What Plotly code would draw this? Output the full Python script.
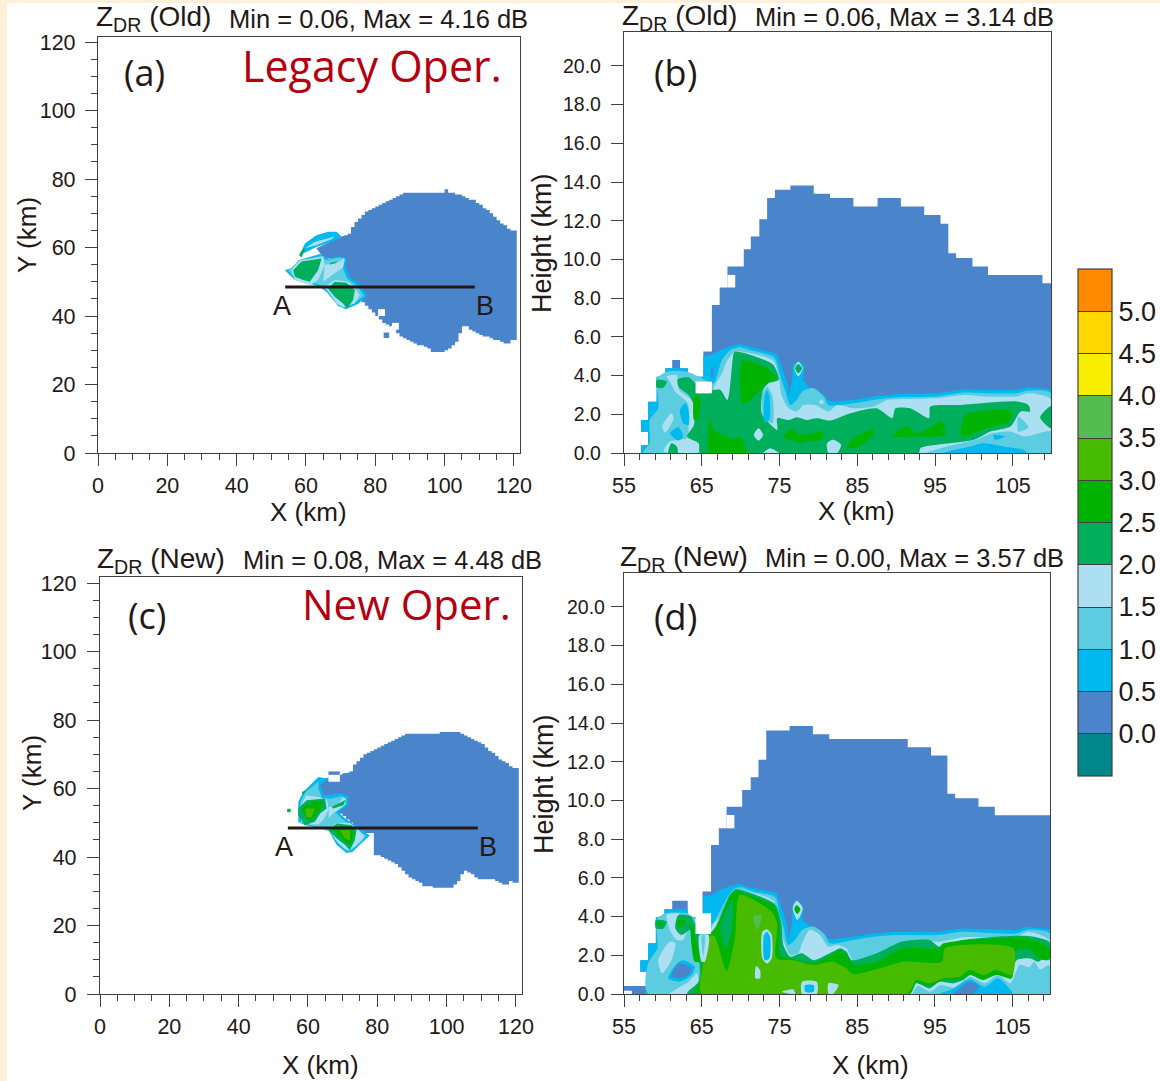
import plotly.graph_objects as go

W, H = 1160, 1081

# ---------- colour levels ----------
LEVEL_COLORS = ["#00878A", "#4A84CB", "#00B9EF", "#5CCDE0", "#ADDFF3", "#00AF5B",
                "#00B300", "#46BB00", "#55BD50", "#F7EE00", "#FFD800", "#FF8A00"]
CBAR_TICKS = [0.0, 0.5, 1.0, 1.5, 2.0, 2.5, 3.0, 3.5, 4.0, 4.5, 5.0]
C0, C05, C10, C15, C20, C25, C30, C35 = LEVEL_COLORS[1:9]
WHITE = "#FFFFFF"

# ---------- panel (a): echo columns, X in km, Y top / bottom in km ----------
A_X = list(range(70, 121))
A_TOP = [63, 63.5, 64, 66, 67.5, 68.5, 69.5, 70.5, 71, 71.5, 72, 72.5, 73, 73.5, 74, 74.5, 75, 75.5, 76, 76, 76, 76, 76, 76, 76,
         76, 76, 76, 76, 76, 77, 76, 76, 75.5, 75.5, 75, 74.5, 74, 74, 73, 72.5, 71.5, 71, 70, 69, 68, 67, 66.5, 65.5, 65, 65]
A_BOT = [51, 51, 50, 49, 48, 47, 44, 43, 42, 41, 40, 39, 38, 37.5, 37, 36, 35, 34, 33.5, 33, 32.5, 32, 31.5, 31.5, 31,
         30.5, 29.5, 29.5, 29.5, 29.5, 30, 30.5, 31.5, 32.5, 35, 37, 37, 36, 35.5, 35, 34.5, 34, 34, 33.5, 33, 33, 32.5, 32, 32, 33, 33]
A_RIGHT = 120.8
A_FILL = [(65, 57.1), (63, 59.8), (70.2, 63.2), (71.9, 63.6), (71.9, 56.3)]
A_HOLE1 = [(80.8, 40), (82.8, 40), (82.8, 42), (80.8, 42)]
A_HOLE2 = [(84.8, 36), (86.8, 36), (86.8, 38), (84.8, 38)]
A_HOLE3 = [(82.4, 33.6), (84, 33.6), (84, 35.2), (82.4, 35.2)]
A_05 = [(53.9, 53.4), (56.3, 54.2), (57.8, 56.3), (64, 58.1), (66.4, 56.8), (69.8, 57.5), (71.5, 57.1), (71.5, 54.2), (72.6, 51.5),
        (75.5, 49.3), (77.6, 45.9), (75, 43.5), (71.5, 42), (69.3, 42.9), (65.9, 47.1), (63.5, 48.8), (56.8, 50.5)]
A_05S = [(58.2, 57.8), (59.7, 61.2), (63, 63.6), (66.4, 64.6), (68.8, 64.6), (70.2, 63.2), (67.4, 61.7), (63, 60.2), (60.2, 58.8)]
A_10 = [(54.9, 53.3), (57.7, 55.9), (64.2, 57.5), (65.9, 56.4), (69.8, 57.2), (70.9, 56.3), (70.7, 53.9), (71.9, 51), (75, 48.6),
        (76.7, 45.9), (74.6, 44.2), (71.5, 42.5), (69.3, 43.5), (65.9, 47.6), (63.5, 49.3), (56.8, 51)]
A_15S = [(59.7, 59.8), (62.6, 61.7), (68.3, 63.2), (67.4, 62.4), (63, 60.7)]
A_15A = [(55.8, 53.4), (58.2, 56.3), (65, 57.5), (65.4, 54.9), (63.5, 50.5), (61.1, 49), (56.8, 50.5)]
A_15B = [(65.4, 54.9), (69.8, 55.9), (70.7, 57), (71.2, 56.5), (70.7, 54.2), (67.5, 52), (65, 50)]
A_15C = [(65.5, 48.6), (68.3, 50.5), (72.2, 50), (75, 47.1), (75.5, 46.1), (74, 43.7), (70.7, 42.5), (68.8, 43.7)]
A_20A = [(56.3, 53.4), (58.7, 55.9), (64.5, 56.8), (63.5, 53.4), (61.1, 50), (59.2, 50.5), (56.8, 51.5)]
A_20B = [(66.4, 48), (68.3, 50), (71.7, 49.7), (74.1, 47.6), (73.6, 44.7), (71.9, 42.2), (70.7, 43.7), (68.3, 45.6)]
A_20C = [(58, 57.8), (59.2, 59.8), (59.7, 59.3), (58.7, 57.1)]
A_20D = [(66.7, 55), (68.7, 55.5), (69, 55.9), (67.2, 55.6)]

# ---------- panel (c) ----------
C_X = list(range(70, 121))
C_TOP = [64.5, 64.5, 65, 67, 68, 69, 70, 70.5, 71, 71.5, 72, 72.5, 73, 73.5, 74, 74.5, 75, 75.5, 76, 76, 76, 76, 76, 76, 76,
         76, 76, 76, 76.5, 76.5, 76.5, 76.5, 76.5, 76.5, 76, 75.5, 75, 74.5, 74, 73.5, 73, 72, 71, 70.5, 69.5, 68.5, 68, 67.5, 66.5, 66, 66]
C_BOT = [52, 51, 50, 49, 48, 47.5, 47, 47, 47, 40.5, 40.5, 40, 39.5, 39, 38.5, 38, 37, 36, 35, 34, 33.5, 33, 32.5, 31.5, 31.5,
         31.5, 31, 31, 31, 31, 31, 31, 32, 33, 35, 36, 35.5, 35, 34, 33.5, 33.5, 33.5, 33.5, 33.5, 33, 32.5, 32, 32, 33, 32.5, 32.5]
C_RIGHT = 120.8
C_FILL = [(62, 60.5), (65, 63), (69.2, 64), (73, 65), (73, 52), (68, 53), (64, 58)]
C_TAB = [(65.9, 64), (69.2, 64), (69.2, 65), (65.9, 65)]
C_HOLE = [(65.9, 62), (69.2, 62), (69.2, 64), (65.9, 64)]
C_05 = [(57.2, 56.1), (58.6, 59), (63, 63.4), (65.9, 62.9), (63.5, 61), (64.4, 58.1), (66.3, 58.1), (69.7, 58.6), (71.6, 57.6),
        (71.6, 55.1), (68.7, 53.2), (70.7, 51.3), (73.5, 49.3), (75.9, 47.4), (77.9, 46.4), (76.4, 44.9), (75, 43.5), (72.8, 41.5),
        (71.1, 41.2), (68.3, 43.5), (65.9, 47.8), (62, 48.8), (59.1, 49.3), (57.2, 50.3)]
C_10 = [(57.8, 56), (59, 58.8), (63, 62), (63, 60), (64, 57.3), (66.5, 57), (69.8, 57.8), (71, 57), (71, 55.5), (68, 53), (70, 51),
        (73, 48.8), (75.5, 47), (76.8, 46.3), (75.5, 44.5), (72.5, 42), (71.2, 41.8), (68.6, 44), (66.2, 47.5), (62, 49), (58, 50)]
C_15A = [(58.2, 55.5), (59.5, 58), (63.5, 57.5), (65.5, 56.5), (66, 54), (64.5, 51), (63, 49.5), (60, 49.6), (58, 50.5)]
C_15B = [(66.2, 48), (68, 49.8), (72, 50), (75, 47.5), (76.3, 46), (74, 43.5), (72, 42), (70.5, 42.5), (68, 45)]
C_15C = [(66, 54.5), (68.5, 55.5), (70.2, 57.5), (71, 57), (70.5, 55), (67.5, 53), (66, 51.5)]
C_20A = [(57.2, 52.2), (57.2, 54.2), (59.6, 56.6), (64.9, 57.1), (65.4, 54.2), (63.5, 52.7), (62, 50.3), (59.1, 49.3)]
C_20B = [(65.9, 47.8), (68.3, 49.8), (72.6, 49.3), (74, 47.8), (73.5, 44.9), (72.1, 42), (70.7, 43.5), (68.3, 45.4)]
C_20C = [(66.8, 54.7), (70.7, 56.6), (71.1, 57.1), (70.2, 55.1), (67.3, 54.2)]
C_20D = [(58.2, 59), (59.6, 59.5), (58.6, 58)]
C_20E = [(54, 53.1), (55, 53.1), (55, 54.1), (54, 54.1)]
C_25A = [(58.2, 54.2), (61.5, 56.6), (64.4, 56.1), (63.5, 53.7), (62, 51.7), (60.1, 50.3)]
C_25B = [(67.3, 47.8), (69.2, 49), (72.6, 48.6), (73.4, 46.4), (72.1, 43.5), (70.7, 44.4), (69.2, 45.9)]
C_30A = [(59.1, 54.2), (62, 54.2), (61, 51.7), (59.6, 51.7)]
C_30B = [(69.2, 47.8), (72.1, 47.8), (72.1, 44.9), (70.7, 45.4)]

# ---------- panel (b): X in km, height in km ----------
B_EDGES = [65.2, 66.3, 67.3, 68.3, 69.3, 70.4, 71.3, 72.4, 73.4, 74.4, 76.4, 79.4, 81.5, 84.5, 87.6, 90.6, 93.6, 95.7, 96.7, 97.7, 99.8, 101.8, 108.8, 109.9]
B_TOPS = [5.24, 7.65, 8.55, 9.63, 9.63, 10.53, 11.18, 12.08, 13.17, 13.6, 13.82, 13.39, 13.17, 12.73, 13.17, 12.73, 12.29, 11.84, 10.32, 10.08, 9.63, 9.2, 8.77]
B_LEFT = [(57.2, 0), (57.2, .41), (58.1, .41), (58.1, 1.1), (57.2, 1.1), (57.2, 1.7), (58.1, 1.7), (58.1, 2.65), (59.2, 2.65), (59.2, 3.94),
          (60.3, 3.94), (60.3, 4.38), (61.2, 4.38), (61.2, 4.8), (62.2, 4.8), (62.2, 4.38), (63.2, 4.38), (63.2, 3.94), (65.2, 3.94)]
B_NOTCH = [(68.3, 8.55), (69.3, 8.55), (69.3, 9.2), (68.3, 9.2)]
B_HOLE = [(64.2, 3.08), (66.3, 3.08), (66.3, 3.69), (64.2, 3.69)]
B_05 = [(57.2, 0), (57.2, .41), (58.1, .41), (58.1, 1.1), (57.2, 1.1), (57.2, 1.7), (58.1, 1.7), (58.1, 2.65), (59.2, 2.65), (59.2, 3.94),
        (60.3, 3.94), (60.3, 4.38), (63.2, 4.38), (63.2, 3.94), (65.2, 3.94), (65.2, 5.0), (66.3, 5.07), (67.4, 5.32), (68.7, 5.5), (69.9, 5.63),
        (71.4, 5.46), (74.7, 5.12), (75.1, 4.64), (75.5, 4.12), (76, 3.6), (76.2, 3), (76.6, 3.69), (76.7, 4.55), (77.5, 4.77), (78.2, 4.5),
        (78, 3.78), (78.9, 3.35), (80.2, 3.17), (81.5, 2.66), (84.5, 2.74), (87.1, 2.92), (90.1, 3.05), (95.3, 3.09), (98.7, 3.29), (101.7, 3.26),
        (105.5, 3.26), (106.8, 3.4), (109.9, 3.29), (109.9, 0)]
B_STREAK = [(66.2, 4.38), (66.5, 4.38), (66.4, 3.86), (66.2, 3.86)]
B_10 = [(57.5, .02), (58.3, .5), (58.3, 1.71), (59.4, 2.31), (59.3, 3.86), (60.5, 4.2), (63.1, 4.2), (64.8, 3.91), (66.5, 3.6), (67.6, 4.81),
        (68.7, 5.32), (69.9, 5.46), (71.4, 5.29), (74.3, 4.95), (75, 4.12), (75.7, 3.26), (76.4, 2.48), (77.2, 2.74), (77.9, 3.17), (79.4, 3.35),
        (80.7, 2.92), (81.3, 2.48), (84.5, 2.57), (87.1, 2.74), (90.1, 2.88), (95.3, 2.92), (98.7, 3.12), (101.7, 3.09), (105.5, 3.09), (106.8, 3.22),
        (109.9, 3.09), (109.9, 0)]
B_15 = [(66.5, 3.29), (67.6, 4.12), (68.2, 4.72), (69.3, 5.24), (70.8, 5.19), (74.2, 4.77), (74.9, 3.95), (75.3, 2.92), (76.2, 2.31), (77.2, 2.14),
        (78.1, 2.48), (79.6, 2.48), (81.3, 2.14), (82.4, 2.48), (84.5, 2.31), (87.1, 2.4), (88.8, 2.74), (90.1, 2.78), (95.3, 2.83), (98.7, 3),
        (101.7, 2.92), (105.5, 2.92), (107, 3.09), (109.9, 2.78), (109.9, 0), (66.5, 0)]
B_15L = [(60.5, 3.95), (61.4, 4.03), (61.8, 4.03), (62.1, 3.26), (63.7, 2.74), (64.4, 1.45), (63.4, .85), (64.8, .59), (64.7, .08), (60.1, .08),
         (60.9, .59), (63.1, .77), (63.3, 1.54), (63.2, 2.57), (61.6, 3.17), (60.9, 3.69)]
B_15O = [(59.9, 1.37), (61.1, 2.05), (61.4, 1.8), (60.3, 1.06)]
B_05A = [(62.2, 2.23), (62.9, 2.57), (63.3, 2.23), (63.3, 1.45), (62.6, 1.54)]
B_05B = [(60.9, 1.02), (62, 1.33), (62.6, .85), (62, .64)]
B_20 = [(63.1, .85), (64, 1.45), (63.9, 2.57), (63.3, 3), (62, 3.43), (61.9, 3.81), (63.3, 3.91), (64.2, 3.6), (66.3, 3.26), (67.4, 3.26),
        (68.3, 2.74), (69.1, 5.15), (69.3, 5.24), (70.6, 5.15), (74.2, 4.55), (74.9, 3.78), (73.6, 3.6), (72.9, 3.26), (72.7, 2.06), (74.7, 1.2),
        (74.7, 1.8), (76.2, 1.71), (77.2, 1.85), (78.5, 1.71), (79.8, 1.8), (81.5, 1.68), (84.1, 2.06), (87.5, 2.31), (89.5, 1.8), (89.9, 2.31),
        (91.8, 2.31), (94.2, 1.8), (94.4, 2.4), (98.3, 2.48), (105.5, 2.66), (107, 2.48), (107.2, 2.14), (106, 2.14), (104.7, 1.37), (102.1, 1.11),
        (100, .68), (93.1, .25), (92.9, 0), (64.8, 0), (64.6, .5)]
B_20R = [(109.9, 2.43), (108.5, 1.84), (109.9, 1.28)]
B_20L = [(59.2, 3.78), (60.5, 3.69), (60.1, 3.38), (59.2, 3.38)]
B_20B = [(60.7, 0), (61.1, .5), (61.8, .33), (61.9, 0)]
B_25A = [(70.2, 4.77), (73.4, 4.38), (74.7, 3.78), (73.6, 3.69), (72.7, 3.34), (70.8, 2.57), (70.2, 2.57)]
B_25B = [(64.1, 3), (64.8, 2.83), (64.4, 1.71), (64, 1.71)]
B_25C = [(66, 0), (66.1, 1.88), (66.5, 1.2), (69.1, .76), (69.9, .85), (70.7, 0)]
B_25D = [(75.4, .76), (76.4, 1.23), (77.9, .94), (80.6, 1.11), (80.4, .68), (78.5, .59), (77.6, .5), (76.4, .68)]
B_25E = [(83.6, .25), (84.5, .76), (87.1, 1.23), (86.9, .85), (85.2, .33)]
B_25F = [(89.4, .85), (91.4, 1.4), (92.7, 1.02), (95.9, 1.62), (96.3, .94), (92.2, .85)]
B_25G = [(98.4, .85), (98.9, 1.97), (104.9, 2.14), (104.5, 1.62), (101.6, 1.28)]
B_H10 = [(72.8, 3), (73.4, 3.43), (74.1, 2.91), (74.1, 1.54), (72.9, 1.88)]
B_H05 = [(73.1, 3), (73.4, 3.26), (73.7, 2.91), (73.7, 1.71), (73.1, 1.62)]
B_S15 = [(77.4, 4.72), (78, 4.38), (77.4, 3.95), (76.9, 4.38)]
B_S20 = [(77.4, 4.6), (77.9, 4.38), (77.4, 4.12), (77, 4.38)]
B_D15 = [(80.4, 2.78), (80.7, 2.62), (80.4, 2.52), (80.1, 2.62)]
B_P15A = [(72.3, 1.28), (72.9, .93), (72.3, .64), (71.7, .93)]
B_P15B = [(81.1, .5), (81.9, .68), (82.9, .42), (82.4, 0), (81.3, 0)]
B_P15C = [(72.9, 0), (73.8, .25), (74.9, 0)]
B_R10 = [(94, 0), (96.5, .33), (100.4, .71), (102.3, 1.02), (104.6, 1.11), (106.6, .85), (109.9, 1.11), (109.9, 0)]
B_R05 = [(96.1, 0), (99.5, .33), (101.2, .5), (103.8, .33), (106.4, .16), (106.8, 0)]
B_R05B = [(102.5, .93), (104, .85), (102.7, .68)]
B_W10 = [(105.7, 1.88), (107, 1.33), (105.7, 1.1)]

# ---------- panel (d) ----------
D_EDGES = [65.1, 66.2, 67.2, 68.2, 69.2, 70.2, 71.3, 72.3, 73.3, 76.3, 79.3, 81.4, 91.5, 94.5, 96.6, 97.6, 100.6, 102.7, 109.8]
D_TOPS = [5.29, 7.7, 8.56, 9.68, 9.68, 10.54, 11.2, 12.1, 13.61, 13.85, 13.42, 13.18, 12.75, 12.32, 10.34, 10.11, 9.68, 9.24]
D_LEFT = [(56, 0), (56, .17), (55, .17), (55, .41), (58.1, .41), (58.1, 1.15), (57.1, 1.15), (57.1, 1.75), (58.1, 1.75), (58.1, 2.62), (59.1, 2.62),
          (59.1, 3.96), (60.2, 3.96), (60.2, 4.38), (61.2, 4.38), (61.2, 4.82), (63.2, 4.82), (63.2, 3.96), (65.1, 3.96)]
D_NOTCH = [(68.2, 8.56), (69.2, 8.56), (69.2, 9.25), (68.2, 9.25)]
D_HOLE = [(64.2, 3.1), (66.2, 3.1), (66.2, 4.17), (64.2, 4.17)]
D_05 = [(57.7, 0), (58.1, .41), (58.1, 1.15), (57.1, 1.15), (57.1, 1.75), (58.1, 1.75), (58.1, 2.62), (59.1, 2.62), (59.1, 3.96), (60.2, 3.96),
        (60.2, 4.38), (63.2, 4.38), (63.2, 3.96), (65.2, 3.96), (65.2, 5.03), (66.3, 5.11), (67.4, 5.37), (68.6, 5.58), (69.9, 5.68), (71.6, 5.46),
        (74.6, 5.24), (75.1, 4.68), (75.5, 4.17), (75.9, 3.65), (76.2, 2.79), (76.6, 3.65), (76.7, 4.6), (77.2, 4.86), (78, 4.6), (77.9, 3.82),
        (79.1, 3.48), (80.2, 3.31), (81.5, 2.82), (84.5, 2.96), (87.1, 3.13), (90.1, 3.22), (95.2, 3.22), (98.6, 3.39), (101.6, 3.34), (105.5, 3.31),
        (106.8, 3.48), (109.8, 3.34), (109.8, 0)]
D_10 = [(58.1, 0), (58.1, 1.58), (59.3, 2.36), (59.2, 3.86), (60.3, 4.17), (63.1, 4.17), (64.1, 3.91), (66.3, 3.62), (67.4, 4.34), (68.2, 4.94),
        (69.1, 5.41), (70.1, 5.51), (71.6, 5.29), (74.4, 5.03), (75, 4.17), (75.5, 3.48), (76.1, 2.53), (77, 2.79), (77.9, 3.31), (79.4, 3.48),
        (80.7, 3.13), (81.5, 2.62), (84.5, 2.79), (87.1, 2.96), (90.1, 3.05), (95.2, 3.05), (98.6, 3.22), (101.6, 3.17), (105.5, 3.13), (106.8, 3.31),
        (109.8, 3.13), (109.8, 0)]
D_15 = [(66.3, 3.48), (67.4, 4), (68.4, 4.86), (69.3, 5.34), (70.4, 5.34), (74.2, 4.82), (75, 3.82), (75.5, 2.79), (76.4, 2.01), (77.4, 2.1),
        (77.9, 2.62), (78.9, 3.31), (80.2, 3.05), (81.3, 2.44), (82.4, 2.53), (83.6, 2.36), (84.5, 1.75), (87.5, 2.01), (90.7, 2.62), (93.1, 2.79),
        (95.6, 2.7), (98.6, 2.93), (105.5, 2.96), (107, 3.22), (109.8, 2.75), (109.8, 0), (66.3, 0)]
D_L05 = [(60.7, .81), (61.8, 1.58), (62.6, 1.75), (64.1, 1.41), (63.7, .98), (62.2, .64)]
D_LDK = [(61.1, .89), (62, 1.58), (63.7, 1.32), (63.3, .98), (62.2, .81)]
D_L15A = [(59.4, 1.75), (60.9, 2.7), (61.6, 2.62), (61.1, 1.75), (59.9, 1.07)]
D_L15B = [(60.5, 4.08), (61.8, 4.17), (63.3, 3.91), (63.1, 3.31), (62.6, 2.79), (61.8, 2.79), (60.9, 3.31)]
D_L15C = [(60.9, 0), (63.3, .63), (64.4, 1.07), (64.6, .63), (64.1, 0)]
D_20 = [(63.1, 0), (64.6, .64), (64.7, 1.58), (63.7, 2.62), (63.5, 3.31), (62.4, 3.05), (61.6, 3.39), (62, 4.08), (63.7, 4), (64.1, 3.65), (66.2, 3.22),
        (66.9, 3.56), (68.6, 5.11), (69.4, 5.41), (70.4, 5.34), (74.4, 4.65), (75.2, 3.74), (75.5, 2.53), (76.4, 1.93), (77.9, 2.1), (79.4, 1.75),
        (81.9, 2.19), (82.8, 2.36), (83.6, 2.19), (84.3, 1.75), (87.5, 2.1), (90.7, 2.7), (94.3, 2.79), (95.6, 2.44), (98.6, 2.79), (107, 3), (109.7, 2.7),
        (109.7, 2.2), (108.3, 1.67), (107.3, 1.84), (105.5, 1.75), (104.6, .89), (102.9, 1.15), (101.2, .76), (99.9, 1.07), (98.6, .72), (97.4, .55),
        (95.6, .63), (94.3, .29), (92.6, .55), (91.8, 0)]
D_20L = [(59.1, 3.82), (60.5, 3.74), (60.1, 3.39), (59.1, 3.39)]
D_25 = [(64.1, 0), (64.8, .72), (65, 1.5), (65.9, 3.05), (66.7, 3.31), (68.9, 5.2), (69.5, 5.37), (70.4, 5.2), (74.3, 4.55), (75, 3.65), (75.1, 2.01),
        (76.4, 1.84), (79.4, 1.62), (81.9, 2.07), (82.8, 2.27), (84.1, 1.75), (84.5, 1.5), (87.9, 1.75), (90.7, 2.36), (95.4, 2.36), (96.1, 2.62), (107, 2.87),
        (109.7, 2.36), (109.7, 1.76), (108.3, 1.84), (107, 2.36), (105.3, 2.19), (104.9, .81), (102.9, .98), (101.2, .72), (99.5, .98), (98.4, .72), (96.1, .72),
        (94.3, .41), (92.6, .63), (91.7, 0)]
D_25S = [(63.6, 3.74), (64.1, 3.05), (64.7, 1.67), (64.1, 1.67), (63.6, 2.96)]
D_25B = [(61.9, 3.82), (62.9, 3.82), (62.6, 3.48), (62, 3.48)]
D_25L = [(59.3, 3.74), (60.1, 3.69), (59.6, 3.48)]
D_30 = [(65, 0), (65.1, 1.36), (66.2, 3.05), (66.7, 2.96), (68.2, 1.2), (69.3, 2.96), (69.9, 5.11), (74, 4.25), (74.7, 3.65), (74.6, 1.84), (76.8, 1.75),
        (79.4, 1.5), (81.9, 1.67), (83.6, 1.33), (84.5, 1.03), (87.9, 1.33), (90.9, 1.67), (95.9, 1.67), (96.3, 2.36), (105.1, 2.36), (104.9, .98), (102.9, 1.24),
        (101.2, .98), (99.5, 1.24), (98.2, .89), (96.1, .81), (94.3, .55), (92.6, .72), (91.4, 0)]
D_V20 = [(67.4, 3.48), (68.9, 4.85), (68.9, 3.31), (68.1, 2.36)]
D_35 = [(71.6, 4), (72.7, 4.08), (72.4, 3.48), (72.1, 3.34)]
D_H15A = [(64.7, 3.05), (65.9, 3.05), (65.4, 1.67), (65, 1.67)]
D_H10A = [(65, 3.05), (65.4, 3.05), (65.2, 1.93)]
D_H15B = [(72.8, 3.22), (73.4, 3.34), (74, 3.05), (74, 1.84), (73.4, 1.58), (72.8, 1.84)]
D_H05B = [(73, 3.05), (73.4, 3.22), (73.8, 2.96), (73.7, 1.84), (73.1, 1.75)]
D_H15C = [(72, 1.45), (72.5, 1.24), (72.5, .81), (71.9, .81)]
D_H15D = [(77.9, .63), (79.8, .63), (79.8, 0), (77.9, 0)]
D_H05D = [(78.3, .46), (79.4, .46), (79.4, .12), (78.3, .12)]
D_H15E = [(81.3, .55), (82.6, .46), (81.9, 0), (81.3, 0)]
D_H15F = [(75.3, .12), (76.8, .24), (77, 0)]
D_S15 = [(77.2, 4.82), (78, 4.43), (77.3, 3.82), (76.7, 4.43)]
D_S25 = [(77.2, 4.6), (77.7, 4.39), (77.3, 4.13), (76.9, 4.39)]
D_R10 = [(92.2, 0), (92.8, .41), (94.4, .12), (95.7, .46), (97.4, .34), (99.5, .89), (101.4, .55), (103.1, .98), (104.7, .55), (105.9, 1.5), (107.1, 1.38),
         (107.8, 1.67), (108.5, 1.27), (109.7, 1.5), (109.7, 0)]
D_R05 = [(95.6, 0), (97.4, .29), (99.5, .76), (101.4, .37), (103.1, .81), (104.9, .12), (105, 0)]
D_RDK = [(97.4, 0), (99.5, .64), (100.6, .41), (99.9, 0)]

# ---------- cross-section lines ----------
AB_X_A, AB_Y_A = [54, 108.7], [48.5, 48.5]
AB_X_C, AB_Y_C = [54.2, 109], [48.5, 48.5]

# ---------- texts ----------
TITLE_A = ("Z<sub>DR</sub> (Old)", "Min = 0.06, Max = 4.16 dB")
TITLE_B = ("Z<sub>DR</sub> (Old)", "Min = 0.06, Max = 3.14 dB")
TITLE_C = ("Z<sub>DR</sub> (New)", "Min = 0.08, Max = 4.48 dB")
TITLE_D = ("Z<sub>DR</sub> (New)", "Min = 0.00, Max = 3.57 dB")

# ---------- layout helpers ----------
BOX = {"a": (98, 519.5, 37, 453), "b": (624, 1051, 32, 453), "c": (100, 521.5, 577, 994), "d": (624, 1050, 573, 994)}
XR = {"a": [0, 121.6], "b": [55, 109.9], "c": [0, 121.6], "d": [55, 109.8]}
YR = {"a": [0, 121.5], "b": [0, 21.75], "c": [0, 121.8], "d": [0, 21.75]}
AX = {"a": ("x", "y"), "b": ("x2", "y2"), "c": ("x3", "y3"), "d": ("x4", "y4")}
STANDOFF = {"a": 5, "b": 6, "c": 6, "d": 2}
INK = "#443F3F"


def step_columns(cols, tops, bots, right):
    edges = list(cols) + [right]
    upper, lower = [], []
    for i, (t, b) in enumerate(zip(tops, bots)):
        upper += [(edges[i], t), (edges[i + 1], t)]
        lower += [(edges[i], b), (edges[i + 1], b)]
    return upper + lower[::-1]


def step_mask(left, edges, tops):
    pts = list(left)
    for i, t in enumerate(tops):
        pts += [(edges[i], t), (edges[i + 1], t)]
    pts.append((edges[-1], 0))
    return pts


fig = go.Figure()


def poly(panel, color, pts, smooth=False):
    xs = [p[0] for p in pts] + [pts[0][0]]
    ys = [p[1] for p in pts] + [pts[0][1]]
    line = dict(width=0, color=color)
    if smooth:
        line.update(shape="spline", smoothing=0.7)
    fig.add_trace(go.Scatter(x=xs, y=ys, xaxis=AX[panel][0], yaxis=AX[panel][1], mode="lines", fill="toself",
                             fillcolor=color, line=line, hoverinfo="skip", showlegend=False))


# panel a
poly("a", C0, step_columns(A_X, A_TOP, A_BOT, A_RIGHT))
poly("a", C0, A_FILL)
for col, pts in [(WHITE, A_HOLE1), (WHITE, A_HOLE2), (C0, A_HOLE3)]:
    poly("a", col, pts)
for col, pts in [(C05, A_05), (C05, A_05S), (C10, A_10), (C15, A_15S), (C15, A_15A), (C15, A_15B), (C15, A_15C),
                 (C20, A_20A), (C20, A_20B), (C20, A_20C), (C20, A_20D)]:
    poly("a", col, pts)

# panel c
poly("c", C0, step_columns(C_X, C_TOP, C_BOT, C_RIGHT))
poly("c", C0, C_FILL)
poly("c", C0, C_TAB)
for col, pts in [(C05, C_05), (C10, C_10), (C15, C_15A), (C15, C_15B), (C15, C_15C), (C20, C_20A), (C20, C_20B), (C20, C_20C),
                 (C20, C_20D), (C20, C_20E), (C25, C_25A), (C25, C_25B), (C30, C_30A), (C30, C_30B)]:
    poly("c", col, pts)
poly("c", WHITE, C_HOLE)

# panel b
poly("b", C0, step_mask(B_LEFT, B_EDGES, B_TOPS))
poly("b", WHITE, B_NOTCH)
poly("b", C05, B_05)
poly("b", C0, B_STREAK)
for col, pts in [(C10, B_10), (C15, B_15), (C15, B_15L), (C15, B_15O), (C05, B_05A), (C05, B_05B), (C20, B_20), (C20, B_20R), (C20, B_20L),
                 (C20, B_20B), (C25, B_25A), (C25, B_25B), (C25, B_25C), (C25, B_25D), (C25, B_25E), (C25, B_25F), (C25, B_25G),
                 (C10, B_H10), (C05, B_H05), (C15, B_S15), (C20, B_S20), (C15, B_D15), (C15, B_P15A), (C15, B_P15B), (C15, B_P15C),
                 (C10, B_R10), (C05, B_R05), (C05, B_R05B), (C10, B_W10)]:
    poly("b", col, pts, True)
poly("b", WHITE, B_HOLE)

# panel d
poly("d", C0, step_mask(D_LEFT, D_EDGES, D_TOPS))
poly("d", WHITE, D_NOTCH)
poly("d", C05, D_05)
for col, pts in [(C10, D_10), (C15, D_15), (C05, D_L05), (C0, D_LDK), (C15, D_L15A), (C15, D_L15B), (C15, D_L15C), (C20, D_20), (C20, D_20L),
                 (C25, D_25), (C25, D_25S), (C25, D_25B), (C25, D_25L), (C30, D_30), (C20, D_V20), (C35, D_35),
                 (C15, D_H15A), (C10, D_H10A), (C15, D_H15B), (C05, D_H05B), (C15, D_H15C), (C15, D_H15D), (C05, D_H05D), (C15, D_H15E), (C15, D_H15F),
                 (C15, D_S15), (C25, D_S25), (C10, D_R10), (C05, D_R05), (C0, D_RDK)]:
    poly("d", col, pts, True)
poly("d", WHITE, D_HOLE)

# A-B lines
fig.add_trace(go.Scatter(x=AB_X_A, y=AB_Y_A, xaxis="x", yaxis="y", mode="lines", line=dict(color="#231815", width=3), hoverinfo="skip", showlegend=False))
fig.add_trace(go.Scatter(x=AB_X_C, y=AB_Y_C, xaxis="x3", yaxis="y3", mode="lines", line=dict(color="#231815", width=3), hoverinfo="skip", showlegend=False))

# colour bar, carried by a heatmap placed outside the visible axis range
stops = []
for i, c in enumerate(LEVEL_COLORS):
    stops += [[i / 12, c], [(i + 1) / 12, c]]
fig.add_trace(go.Heatmap(x=[500, 501], y=[500], z=[[0.0, 5.0]], zmin=-0.5, zmax=5.5, colorscale=stops, hoverinfo="skip",
                         xaxis="x", yaxis="y",
                         colorbar=dict(x=1078 / W, xanchor="left", y=1 - 269 / H, yanchor="top", lenmode="pixels", len=507,
                                       thicknessmode="pixels", thickness=34, xpad=0, ypad=0,
                                       outlinecolor=INK, outlinewidth=1.2, tickvals=CBAR_TICKS, tickformat=".1f", tickprefix="\u2009",
                                       ticks="inside", ticklen=34, tickcolor=INK, tickwidth=1.2,
                                       tickfont=dict(family="Liberation Sans", size=27, color="#231815"))))


def px(x):
    return x / W


def py(y):
    return 1 - y / H


layout = dict(width=W, height=H, margin=dict(l=0, r=0, t=0, b=0, pad=0, autoexpand=False), paper_bgcolor="#FCF1D8", plot_bgcolor="#FFFFFF",
              showlegend=False, font=dict(family="Liberation Sans", color="#231815"))
tick_font = dict(family="Liberation Sans", size=21.5, color="#231815")
tick_font_h = dict(family="Liberation Sans", size=19.5, color="#231815")
for k, (l, r, t, b) in BOX.items():
    suffix = AX[k][0][1:]
    horizontal = k in "ac"
    xa = dict(domain=[px(l), px(r)], range=XR[k], showgrid=False, zeroline=False, showline=True, mirror=True, linecolor=INK, linewidth=1.3,
              ticks="outside", ticklen=12, tickcolor=INK, tickwidth=1.3, tickfont=tick_font, tick0=0 if horizontal else 55, dtick=20 if horizontal else 10,
              minor=dict(dtick=5 if horizontal else 2, tick0=0 if horizontal else 55, ticks="outside", ticklen=6, tickcolor=INK, tickwidth=1.3),
              anchor=AX[k][1], ticklabelstandoff=1)
    ya = dict(domain=[py(b), py(t)], range=YR[k], showgrid=False, zeroline=False, showline=True, mirror=True, linecolor=INK, linewidth=1.3,
              ticks="outside", ticklen=12, tickcolor=INK, tickwidth=1.3, tickfont=tick_font if horizontal else tick_font_h, tick0=0, dtick=20 if horizontal else 2,
              anchor=AX[k][0], ticklabelstandoff=STANDOFF[k])
    if horizontal:
        ya["minor"] = dict(dtick=5, tick0=0, ticks="outside", ticklen=6, tickcolor=INK, tickwidth=1.3)
    else:
        ya["tickformat"] = ".1f"
        ya["tickvals"] = [i * 2 for i in range(11)]
    layout["xaxis" + suffix] = xa
    layout["yaxis" + suffix] = ya

fig.update_layout(**layout)


def label(x, y, text, size, color="#231815", family="Liberation Sans", anchor="center", angle=0):
    fig.add_annotation(xref="paper", yref="paper", x=px(x), y=py(y), text=text, showarrow=False, xanchor=anchor, yanchor="middle",
                       textangle=angle, font=dict(family=family, size=size, color=color))


# titles
for (x1, x2, y, title) in [(94, 227, 19, TITLE_A), (620, 753, 17, TITLE_B), (95, 241, 560, TITLE_C), (618, 763, 558, TITLE_D)]:
    label(x1, y, title[0], 28, anchor="left")
    label(x2, y, title[1], 25.5, anchor="left")

# axis titles
label(308, 512, "X (km)", 26)
label(856, 511, "X (km)", 26)
label(320, 1065, "X (km)", 26)
label(870, 1065, "X (km)", 26)
label(27, 235, "Y (km)", 26, angle=-90)
label(32, 773, "Y (km)", 26, angle=-90)
label(542, 243, "Height (km)", 27, angle=-90)
label(544, 784, "Height (km)", 27, angle=-90)

# panel tags
TAG_FONT = "Open Sans"
label(144, 73, "(a)", 36, family=TAG_FONT)
label(675, 72, "(b)", 36, family=TAG_FONT)
label(147, 615, "(c)", 36, family=TAG_FONT)
label(675, 616, "(d)", 36, family=TAG_FONT)
label(372, 65, "Legacy Oper.", 43, color="#B5000F", family=TAG_FONT)
label(406, 603, "New Oper.", 42, color="#B5000F", family=TAG_FONT)

# A / B
label(282, 306, "A", 27)
label(485, 306, "B", 27)
label(284, 847, "A", 27)
label(488, 847, "B", 27)

# white card over the cream page edge
fig.add_shape(type="rect", xref="paper", yref="paper", x0=px(7), x1=1, y0=0, y1=py(3), fillcolor="#FFFFFF", line=dict(width=0), layer="below")

fig.write_html("out.html", post_script="document.body.style.margin='0';", config=dict(displayModeBar=False))
